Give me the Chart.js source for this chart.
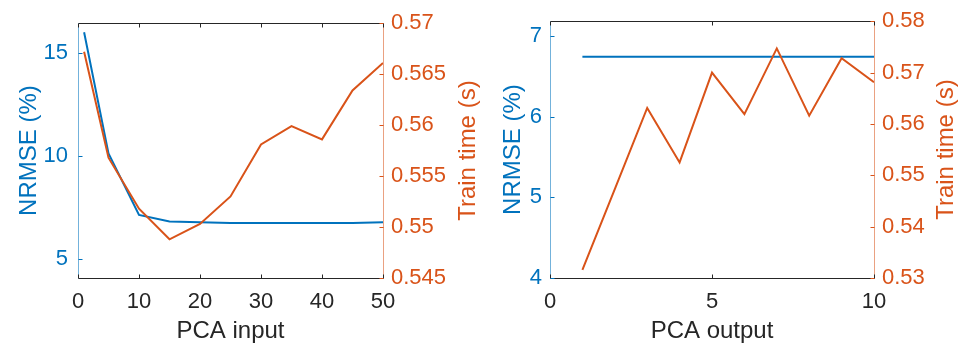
<!DOCTYPE html>
<html>
<head>
<meta charset="utf-8">
<script src="https://cdn.jsdelivr.net/npm/chart.js@4/dist/chart.umd.min.js"></script>
<style>
  body { margin: 0; background: #fff; }
  .wrap { position: absolute; top: 0; width: 480px; height: 345px; }
</style>
</head>
<body>
<div class="wrap" style="left:0"><canvas id="pcaInput" width="480" height="345"></canvas></div>
<div class="wrap" style="left:480px"><canvas id="pcaOutput" width="480" height="345"></canvas></div>
<script>
// left panel: PCA input
const inputDims = [1, 5, 10, 15, 20, 25, 30, 35, 40, 45, 50];
const inputNrmse = [16.0, 10.12, 7.14, 6.82, 6.79, 6.75, 6.75, 6.75, 6.75, 6.75, 6.78];
const inputTrainTime = [0.5672, 0.5568, 0.5518, 0.5488, 0.5503, 0.5530, 0.5581, 0.5599, 0.5586, 0.5634, 0.5661];
const inputXTicks = [0, 10, 20, 30, 40, 50];
const inputNrmseTicks = [5, 10, 15];
const inputTimeTicks = [0.545, 0.55, 0.555, 0.56, 0.565, 0.57];

// right panel: PCA output
const outputDims = [1, 2, 3, 4, 5, 6, 7, 8, 9, 10];
const outputNrmse = [6.745, 6.745, 6.745, 6.745, 6.745, 6.745, 6.745, 6.745, 6.745, 6.745];
const outputTrainTime = [0.5316, 0.5473, 0.5631, 0.5525, 0.5700, 0.5619, 0.5747, 0.5616, 0.5728, 0.5681];
const outputXTicks = [0, 5, 10];
const outputNrmseTicks = [4, 5, 6, 7];
const outputTimeTicks = [0.53, 0.54, 0.55, 0.56, 0.57, 0.58];

const BLUE = '#0072BD';
const ORANGE = '#D95319';
const DARK = '#262626';
const FONT = "'Liberation Sans', Arial, sans-serif";

Chart.defaults.font.family = FONT;
Chart.defaults.animation = false;

// MATLAB style box with ticks pointing inward
const boxPlugin = {
  id: 'box',
  afterDatasetsDraw(chart) {
    const { ctx, chartArea: a, scales } = chart;
    const line = (x1, y1, x2, y2, color) => {
      ctx.strokeStyle = color;
      ctx.beginPath();
      ctx.moveTo(x1, y1);
      ctx.lineTo(x2, y2);
      ctx.stroke();
    };
    ctx.save();
    ctx.lineWidth = 1;
    const top = Math.round(a.top) + 0.5, bot = Math.round(a.bottom) + 0.5;
    const lft = Math.round(a.left) + 0.5, rgt = Math.round(a.right) + 0.5;
    line(lft, top, rgt, top, DARK);
    line(lft, bot, rgt, bot, DARK);
    line(lft, top, lft, bot, 'rgba(0,114,189,0.55)');
    line(rgt, top, rgt, bot, 'rgba(217,83,25,0.55)');
    scales.x.ticks.forEach(t => {
      const px = Math.round(scales.x.getPixelForValue(t.value)) + 0.5;
      line(px, bot, px, bot - 4, DARK);
      line(px, top, px, top + 4, DARK);
    });
    scales.y.ticks.forEach(t => {
      const py = Math.round(scales.y.getPixelForValue(t.value)) + 0.5;
      line(lft, py, lft + 4, py, BLUE);
    });
    scales.y2.ticks.forEach(t => {
      const py = Math.round(scales.y2.getPixelForValue(t.value)) + 0.5;
      line(rgt, py, rgt - 4, py, ORANGE);
    });
    // right axis title reads bottom-to-top like the left one
    const opts = chart.options.plugins.box;
    ctx.translate(opts.titleX, (a.top + a.bottom) / 2);
    ctx.rotate(-Math.PI / 2);
    ctx.fillStyle = ORANGE;
    ctx.font = '24px ' + FONT;
    ctx.textAlign = 'center';
    ctx.textBaseline = 'middle';
    ctx.fillText(opts.text, 0, 0);
    ctx.restore();
  }
};

const fmt = v => String(Number(v.toFixed(4)));

function makeChart(id, cfg) {
  const pts = (xs, ys) => xs.map((x, i) => ({ x: x, y: ys[i] }));
  return new Chart(document.getElementById(id), {
    type: 'line',
    data: {
      datasets: [
        {
          label: 'Train time',
          data: pts(cfg.x, cfg.time),
          yAxisID: 'y2',
          borderColor: ORANGE,
          borderWidth: 2,
          pointRadius: 0,
          tension: 0,
          order: 0
        },
        {
          label: 'NRMSE',
          data: pts(cfg.x, cfg.nrmse),
          yAxisID: 'y',
          borderColor: BLUE,
          borderWidth: 2,
          pointRadius: 0,
          tension: 0,
          order: 1
        }
      ]
    },
    plugins: [boxPlugin],
    options: {
      responsive: false,
      devicePixelRatio: 1,
      layout: { padding: { top: 20, left: 0, right: 0, bottom: 0 } },
      plugins: {
        legend: { display: false },
        tooltip: { enabled: false },
        box: { text: 'Train time (s)', titleX: cfg.rightTitleX }
      },
      scales: {
        x: {
          type: 'linear',
          min: cfg.xTicks[0],
          max: cfg.xTicks[cfg.xTicks.length - 1],
          afterBuildTicks: s => { s.ticks = cfg.xTicks.map(v => ({ value: v })); },
          afterFit: s => { s.height = 67; },
          grid: { display: false, drawTicks: false },
          border: { display: false },
          ticks: { color: DARK, padding: 11, maxRotation: 0, font: { size: 22 }, callback: v => fmt(v) },
          title: { display: true, text: cfg.xTitle, color: DARK, font: { size: 24, lineHeight: 1 }, padding: { top: 0, bottom: 1.3 } }
        },
        y: {
          position: 'left',
          min: cfg.yMin,
          max: cfg.yMax,
          afterBuildTicks: s => { s.ticks = cfg.yTicks.map(v => ({ value: v })); },
          afterFit: s => { s.width = cfg.leftW; },
          grid: { display: false, drawTicks: false },
          border: { display: false },
          ticks: { color: BLUE, padding: cfg.leftPad, font: { size: 22 }, callback: v => fmt(v) },
          title: { display: true, text: 'NRMSE (%)', color: BLUE, font: { size: 24, lineHeight: 1 }, padding: { top: cfg.leftTitlePad, bottom: 0 } }
        },
        y2: {
          position: 'right',
          min: cfg.y2Ticks[0],
          max: cfg.y2Ticks[cfg.y2Ticks.length - 1],
          afterBuildTicks: s => { s.ticks = cfg.y2Ticks.map(v => ({ value: v })); },
          afterFit: s => { s.width = cfg.rightW; },
          grid: { display: false, drawTicks: false },
          border: { display: false },
          ticks: { color: ORANGE, padding: 8, font: { size: 22 }, callback: v => fmt(v) },
          title: { display: false }
        }
      }
    }
  });
}

makeChart('pcaInput', {
  x: inputDims, nrmse: inputNrmse, time: inputTrainTime,
  xTicks: inputXTicks, yTicks: inputNrmseTicks, y2Ticks: inputTimeTicks,
  yMin: 4.08, yMax: 16.44, xTitle: 'PCA input',
  leftW: 78, rightW: 97, leftPad: 10, leftTitlePad: 17, rightTitleX: 468
});

makeChart('pcaOutput', {
  x: outputDims, nrmse: outputNrmse, time: outputTrainTime,
  xTicks: outputXTicks, yTicks: outputNrmseTicks, y2Ticks: outputTimeTicks,
  yMin: 4, yMax: 7.185, xTitle: 'PCA output',
  leftW: 70, rightW: 86, leftPad: 8, leftTitlePad: 21, rightTitleX: 466.5
});
</script>
</body>
</html>
